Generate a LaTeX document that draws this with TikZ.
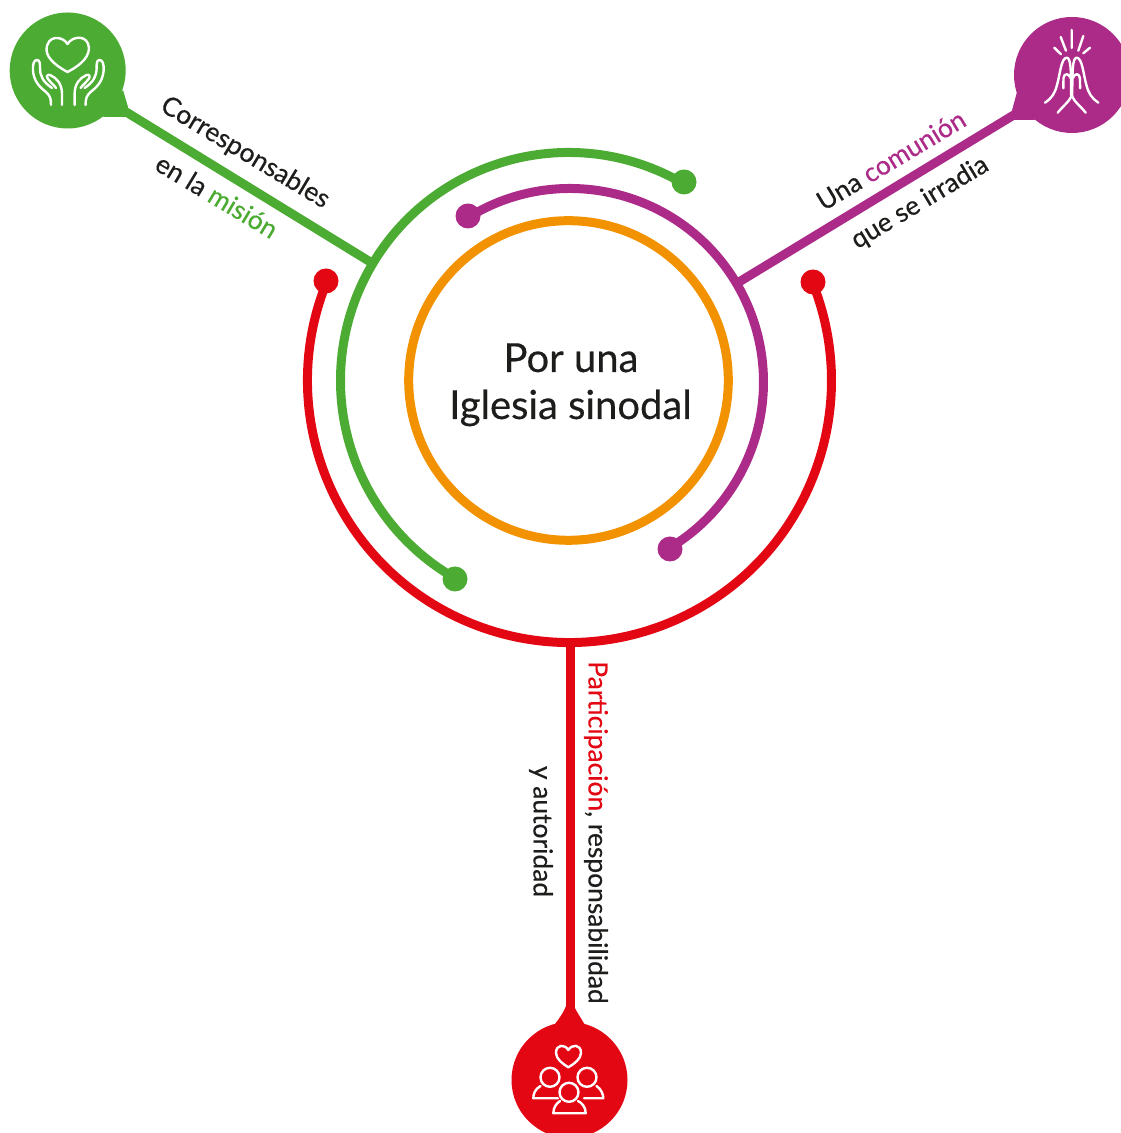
\documentclass[tikz,border=0pt]{standalone}
\usepackage{fontspec}
\setmainfont[FakeBold=0.35]{Lato}
\definecolor{cgreen}{HTML}{4CAB33}
\definecolor{cpurple}{HTML}{AD2B88}
\definecolor{cred}{HTML}{E30613}
\definecolor{corange}{HTML}{F39200}
\definecolor{ctext}{HTML}{1D1D1B}
\tikzset{
  ring/.style={line width=9pt},
  spoke/.style={line width=9pt},
  icon/.style={draw=white,line width=2.4pt,line cap=round,line join=round},
  lab/.style={font=\fontsize{26.4}{26.4}\selectfont,text=ctext,inner sep=0pt},
  ctr/.style={font=\fontsize{40}{40}\selectfont,text=ctext,inner sep=0pt,anchor=base},
  dot/.style={circle,minimum size=25pt,inner sep=0pt},
  bubble/.style={circle,minimum size=116pt,inner sep=0pt}
}
\begin{document}
\begin{tikzpicture}[x=1pt,y=1pt]
\useasboundingbox (0,0) rectangle (1121,1133);
\clip (0,0) rectangle (1121,1133);
\coordinate (c) at (568.5,752.5);
% orange ring
\draw[ring,corange] (c) circle[radius=159.8];
% arcs
\draw[ring,cgreen] (c) ++(60:228) arc[start angle=60,end angle=240.3,radius=228];
\draw[ring,cpurple] (570,751) ++(121.6:193.5) arc[start angle=121.6,end angle=-59,radius=193.5];
\draw[ring,cred] (569.5,752.5) ++(157.5:262) arc[start angle=157.5,end angle=382,radius=262];
% dots
\node[dot,fill=cgreen] (g1) at (684,951) {};
\node[dot,fill=cgreen] (g2) at (455,554) {};
\node[dot,fill=cpurple] (p1) at (468,917) {};
\node[dot,fill=cpurple] (p2) at (670,584) {};
\node[dot,fill=cred] (r1) at (326,852) {};
\node[dot,fill=cred] (r2) at (813,851) {};
% bubbles
\node[bubble,fill=cgreen] (bg) at (67.7,1062.5) {};
\node[bubble,fill=cpurple] (bp) at (1072,1058) {};
\node[bubble,fill=cred] (br) at (569.5,53) {};
% spoke anchors
\coordinate (sg) at (372,870);
\coordinate (sp) at (739,851);
\coordinate (sr) at (570,490);
\coordinate (eg) at (118,1026);
\coordinate (ep) at (1022,1023);
\coordinate (er) at (570,113);
\draw[spoke,cgreen] (sg) -- (eg);
\draw[spoke,cpurple] (sp) -- (ep);
\draw[spoke,cred] (sr) -- (er);
% pointers
\fill[cgreen] (123,1043) -- (128,1026) -- (126,1016) -- (103,1016) -- cycle;
\fill[cpurple] (1016.7,1040) -- (1011.7,1021.3) -- (1013,1013) -- (1035,1013) -- cycle;
\fill[cred] (555,109) .. controls (562,118) and (565,124) .. (566,127) -- (574,127) .. controls (575,124) and (579,118) .. (585,108) -- cycle;
% centre text
\node[ctr] (t1) at (571,761) {Por una};
\node[ctr] (t2) at (570.5,714) {Iglesia sinodal};
% labels
\node[lab,rotate=-31] (l1) at (245,980) {Corresponsables};
\node[lab,rotate=-31] (l2) at (217,937) {en la \textcolor{cgreen}{misión}};
\node[lab,rotate=31] (l3) at (891,973) {Una \textcolor{cpurple}{comunión}};
\node[lab,rotate=31] (l4) at (920,930) {que se irradia};
\node[lab,rotate=-90] (l5) at (596,300.5) {\textcolor{cred}{Participación}, responsabilidad};
\node[lab,rotate=-90] (l6) at (541,301.5) {y autoridad};
% icons in pixel coordinates
\begin{scope}[shift={(0,1133)},yscale=-1]
% green icon
\draw[icon] (67.5,44) .. controls (63,36) and (47,34) .. (46.5,50) .. controls (47,60) and (60,68) .. (67.5,72) .. controls (75,68) and (89,60) .. (89,48) .. controls (88,34) and (72,36) .. (67.5,44) -- cycle;
\foreach \m/\o in {1/0,-1/136.6}{
\begin{scope}[shift={(\o,0)},xscale=\m]
\draw[icon] (51,105) .. controls (51,98) and (50,96) .. (46,92) .. controls (38,86) and (34,80) .. (33,71) .. controls (32.5,64) and (34,60) .. (37,60) .. controls (40,60) and (40,64) .. (40,68) .. controls (40,76) and (43,82) .. (52,88);
\draw[icon] (62,105) -- (62,94) .. controls (62,84) and (57,78) .. (50,75) .. controls (47,74) and (46,77) .. (48,79) .. controls (50,82) and (54,85) .. (56,88);
\end{scope}}
% purple icon
\draw[icon] (1071.7,30)--(1071.7,48) (1060.7,37)--(1066,50.7) (1083.3,36)--(1078.3,50.7) (1054.3,47.7)--(1061,54.3) (1090,47.7)--(1083.3,53.3);
\foreach \m/\o in {1/0,-1/2143.4}{
\begin{scope}[shift={(\o,0)},xscale=\m]
\draw[icon] (1045,102.7) .. controls (1052,98) and (1055,93) .. (1057,85) .. controls (1060,75) and (1061,58) .. (1066.7,57.7) .. controls (1071,58) and (1071,70) .. (1071.2,96.7);
\draw[icon] (1057.7,112.7) .. controls (1063,106) and (1068,103) .. (1071.2,96.7);
\draw[icon] (1063.3,88.3) -- (1063.5,78) .. controls (1064,73) and (1069,73) .. (1070.5,78);
\end{scope}}
% red icon
\draw[icon] (568.3,1050) .. controls (565,1044) and (556,1044) .. (556,1053) .. controls (556,1059) and (563,1064) .. (568.3,1067.3) .. controls (574,1064) and (581,1059) .. (581,1053) .. controls (581,1044) and (572,1044) .. (568.3,1050) -- cycle;
\draw[icon] (550,1077.3) circle[radius=9.5];
\draw[icon] (587,1077.3) circle[radius=9.5];
\draw[icon] (569,1092.3) circle[radius=9.5];
\draw[icon] (540.5,1086) .. controls (535,1089) and (533.3,1094) .. (533.3,1098.3) -- (558,1098.3);
\draw[icon] (596.5,1086) .. controls (601,1089) and (603.3,1094) .. (603.3,1098.3) -- (584,1098.3);
\draw[icon] (560,1101) .. controls (557,1103) and (553.3,1107) .. (553.3,1113.3) -- (585.7,1113.3) .. controls (585.7,1107) and (582,1103) .. (578,1101);
\end{scope}
\end{tikzpicture}
\end{document}
